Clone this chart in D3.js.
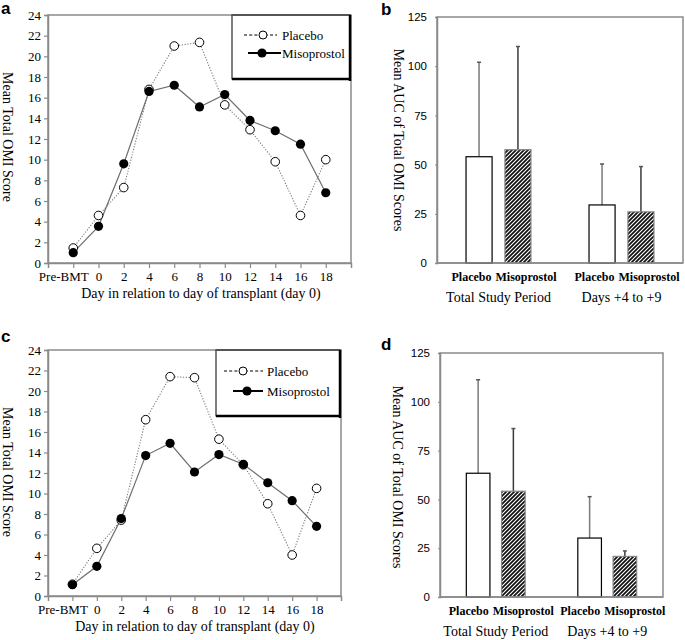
<!DOCTYPE html>
<html><head><meta charset="utf-8">
<script src="https://cdn.jsdelivr.net/npm/d3@7"></script>
<style>
body{margin:0;background:#fff;}
svg{display:block;}
</style></head>
<body>
<svg id="chart" width="685" height="640"></svg>
<script>
// ---------- DATA ----------
const days = ["Pre-BMT","0","2","4","6","8","10","12","14","16","18"];
const yTicksLine = [0,2,4,6,8,10,12,14,16,18,20,22,24];
const aPlacebo = [1.45,4.6,7.3,16.8,21.0,21.35,15.3,12.9,9.8,4.6,10.0];
const aMiso    = [1.0,3.55,9.6,16.6,17.2,15.1,16.3,13.8,12.8,11.5,6.8];
const cPlacebo = [1.15,4.65,7.4,17.2,21.4,21.3,15.3,12.8,9.0,4.0,10.5];
const cMiso    = [1.1,2.9,7.55,13.7,14.9,12.1,13.8,12.85,11.05,9.3,6.8];

const periods = ["Total Study Period","Days +4 to +9"];
const treatments = ["Placebo","Misoprostol"];
const yTicksBar = [0,25,50,75,100,125];
const bPlaceboMean = [54,29.5],  bPlaceboUpper = [102,50.3];
const bMisoMean    = [57.6,26],  bMisoUpper    = [110,49];
const dPlaceboMean = [63.4,30.2], dPlaceboUpper = [111.3,51.4];
const dMisoMean    = [54.2,20.8], dMisoUpper    = [86.3,23.6];

// ---------- SETUP ----------
const svg = d3.select("#chart");
const SERIF = "'Liberation Serif','Times New Roman',serif";
const SANS = "'Liberation Sans',Arial,sans-serif";
const AXIS = "#8a8a8a";

const defs = svg.append("defs");
const pat = defs.append("pattern").attr("id","hatch").attr("patternUnits","userSpaceOnUse")
  .attr("width",4).attr("height",4);
pat.append("rect").attr("width",4).attr("height",4).attr("fill","#111");
pat.append("path").attr("d","M-1,1 l2,-2 M0,4 l4,-4 M3,5 l2,-2")
  .attr("stroke","#fff").attr("stroke-width",1.1);

function panelLetter(t,x,y){
  svg.append("text").attr("x",x).attr("y",y).text(t)
    .attr("font-family",SANS).attr("font-weight","bold").attr("font-size",17).attr("fill","#000");
}

// ---------- LINE PANEL ----------
function linePanel(o){
  const x = d3.scalePoint().domain(days).range([o.left,o.right]).padding(1);
  const y = d3.scaleLinear().domain([0,24]).range([o.bottom,o.top]);
  const g = svg.append("g");
  g.append("rect").attr("x",o.left).attr("y",o.top).attr("width",o.right-o.left).attr("height",o.bottom-o.top)
    .attr("fill","none").attr("stroke",AXIS).attr("stroke-width",1.5);
  const ya = g.append("g").attr("transform",`translate(${o.left},0)`)
    .call(d3.axisLeft(y).tickValues(yTicksLine).tickSize(4).tickPadding(3));
  ya.select(".domain").attr("stroke",AXIS).attr("stroke-width",1.5);
  ya.selectAll(".tick line").attr("stroke",AXIS).attr("stroke-width",1.2);
  ya.selectAll("text").attr("font-family",SERIF).attr("font-size",13).attr("fill","#000");
  const xa = g.append("g").attr("transform",`translate(0,${o.bottom})`)
    .call(d3.axisBottom(x).tickSize(5).tickPadding(4));
  xa.select(".domain").attr("stroke",AXIS).attr("stroke-width",1.5);
  xa.selectAll(".tick line").attr("stroke",AXIS).attr("stroke-width",1.2);
  xa.selectAll("text").attr("font-family",SERIF).attr("font-size",13).attr("fill","#000")
    .attr("dx",d=>d===days[0]?-10:0);
  g.append("text").attr("x",o.xTitleX).attr("y",o.bottom+35).attr("text-anchor","middle")
    .attr("font-family",SERIF).attr("font-size",14).text("Day in relation to day of transplant (day 0)");
  g.append("text").attr("transform",`translate(3,${o.yTitleY}) rotate(90)`).attr("text-anchor","middle")
    .attr("font-family",SERIF).attr("font-size",14).text("Mean Total OMI Score");
  const line = d3.line().x((d,i)=>x(days[i])).y(d=>y(d));
  g.append("path").datum(o.placebo).attr("d",line).attr("fill","none")
    .attr("stroke","#7a7a7a").attr("stroke-width",1.1).attr("stroke-dasharray","1.2,1.6");
  g.append("path").datum(o.miso).attr("d",line).attr("fill","none")
    .attr("stroke","#6e6e6e").attr("stroke-width",1.2);
  g.selectAll(".pp").data(o.placebo).enter().append("circle")
    .attr("cx",(d,i)=>x(days[i])).attr("cy",d=>y(d)).attr("r",4.3)
    .attr("fill","#fff").attr("stroke","#000").attr("stroke-width",1);
  g.selectAll(".mp").data(o.miso).enter().append("circle")
    .attr("cx",(d,i)=>x(days[i])).attr("cy",d=>y(d)).attr("r",4.6)
    .attr("fill","#000");
  const L = o.legend;
  g.append("rect").attr("x",L.x0).attr("y",L.y0).attr("width",L.x1-L.x0).attr("height",L.y1-L.y0)
    .attr("fill","#fff").attr("stroke","#000").attr("stroke-width",1);
  g.append("line").attr("x1",L.x0).attr("x2",L.x1).attr("y1",L.y0).attr("y2",L.y0).attr("stroke","#555").attr("stroke-width",2);
  g.append("line").attr("x1",L.x1).attr("x2",L.x1).attr("y1",L.y0).attr("y2",L.y1+2).attr("stroke","#000").attr("stroke-width",2.5);
  g.append("line").attr("x1",L.x0).attr("x2",L.x1).attr("y1",L.y1).attr("y2",L.y1).attr("stroke","#000").attr("stroke-width",2.5);
  g.append("line").attr("x1",L.p[0]).attr("x2",L.p[2]).attr("y1",L.p[3]).attr("y2",L.p[3])
    .attr("stroke","#000").attr("stroke-width",1).attr("stroke-dasharray","3,2.2");
  g.append("circle").attr("cx",L.p[1]).attr("cy",L.p[3]).attr("r",4).attr("fill","#fff").attr("stroke","#000");
  g.append("text").attr("x",L.tx).attr("y",L.p[3]+4.5).attr("font-family",SERIF).attr("font-size",13).text(treatments[0]);
  g.append("line").attr("x1",L.m[0]).attr("x2",L.m[2]).attr("y1",L.m[3]).attr("y2",L.m[3])
    .attr("stroke","#000").attr("stroke-width",2);
  g.append("circle").attr("cx",L.m[1]).attr("cy",L.m[3]).attr("r",4.6).attr("fill","#000");
  g.append("text").attr("x",L.tx).attr("y",L.m[3]+4.5).attr("font-family",SERIF).attr("font-size",13).text(treatments[1]);
}

// ---------- BAR PANEL ----------
function barPanel(o){
  const W = o.right-o.left;
  const gx = d3.scalePoint().domain(periods).range([o.left,o.right]).padding(0.5);
  const half = 0.132*W;
  const sx = d3.scaleBand().domain(treatments).range([-half,half]).paddingInner(0.33);
  const y = d3.scaleLinear().domain([0,125]).range([o.bottom,o.top]);
  const g = svg.append("g");
  g.append("rect").attr("x",o.left).attr("y",o.top).attr("width",W).attr("height",o.bottom-o.top)
    .attr("fill","none").attr("stroke",AXIS).attr("stroke-width",1.5);
  const ya = g.append("g").attr("transform",`translate(${o.left},0)`)
    .call(d3.axisLeft(y).tickValues(yTicksBar).tickSize(2).tickPadding(8));
  ya.select(".domain").attr("stroke",AXIS).attr("stroke-width",1.5);
  ya.selectAll(".tick line").attr("stroke",AXIS);
  ya.selectAll("text").attr("font-family",SANS).attr("font-size",11.5).attr("fill","#000");
  g.append("text").attr("transform",`translate(${o.yTitleX},${o.yTitleY}) rotate(90)`).attr("text-anchor","middle")
    .attr("font-family",SERIF).attr("font-size",14).text("Mean AUC of Total OMI Scores");

  const rows = [];
  periods.forEach((p,i)=>{
    rows.push({p, t:"Placebo", v:o.pm[i], u:o.pu[i]});
    rows.push({p, t:"Misoprostol", v:o.mm[i], u:o.mu[i]});
  });
  const bx = d=>gx(d.p)+sx(d.t);
  rows.forEach(d=>{
    const cx = bx(d)+sx.bandwidth()/2;
    g.append("line").attr("x1",cx).attr("x2",cx).attr("y1",y(d.v)).attr("y2",y(d.u))
      .attr("stroke",d.t==="Placebo"?"#7a7a7a":"#3a3a3a").attr("stroke-width",1.5);
    g.append("line").attr("x1",cx-2).attr("x2",cx+2).attr("y1",y(d.u)).attr("y2",y(d.u))
      .attr("stroke","#555").attr("stroke-width",1.5);
  });
  g.selectAll(".bar").data(rows).enter().append("rect")
    .attr("x",bx).attr("y",d=>y(d.v)).attr("width",sx.bandwidth()).attr("height",d=>o.bottom-y(d.v))
    .attr("fill",d=>d.t==="Placebo"?"#fff":"url(#hatch)")
    .attr("stroke",d=>d.t==="Placebo"?"#000":"#888").attr("stroke-width",1.2);
  g.append("line").attr("x1",o.left).attr("x2",o.right).attr("y1",o.bottom).attr("y2",o.bottom)
    .attr("stroke",AXIS).attr("stroke-width",1.5);
  periods.forEach(p=>{
    const c = gx(p)-5;
    g.append("text").attr("x",c-2).attr("y",o.bottom+18).attr("text-anchor","end")
      .attr("font-family",SERIF).attr("font-weight","bold").attr("font-size",12).text(treatments[0]);
    g.append("text").attr("x",c+2).attr("y",o.bottom+18).attr("text-anchor","start")
      .attr("font-family",SERIF).attr("font-weight","bold").attr("font-size",12).text(treatments[1]);
    g.append("text").attr("x",gx(p)).attr("y",o.bottom+39).attr("text-anchor","middle")
      .attr("font-family",SERIF).attr("font-size",14).text(p);
  });
}

linePanel({left:48,right:351,top:15,bottom:263,xTitleX:201,yTitleY:137,placebo:aPlacebo,miso:aMiso,
  legend:{x0:232,x1:350,y0:15,y1:79,p:[244,263,277,35],m:[248,262,281,53],tx:282}});
linePanel({left:48,right:341,top:350,bottom:596,xTitleX:195,yTitleY:472,placebo:cPlacebo,miso:cMiso,
  legend:{x0:216,x1:340,y0:350,y1:416,p:[224,243,263,371],m:[233,247,263,391],tx:267}});
barPanel({left:437,right:683,top:17,bottom:263,yTitleX:394,yTitleY:140,
  pm:bPlaceboMean,pu:bPlaceboUpper,mm:bMisoMean,mu:bMisoUpper});
barPanel({left:440,right:663,top:353,bottom:597,yTitleX:393,yTitleY:477,
  pm:dPlaceboMean,pu:dPlaceboUpper,mm:dMisoMean,mu:dMisoUpper});

panelLetter("a",1,14);
panelLetter("b",381,15);
panelLetter("c",1,342);
panelLetter("d",381,350);
</script>
</body></html>
